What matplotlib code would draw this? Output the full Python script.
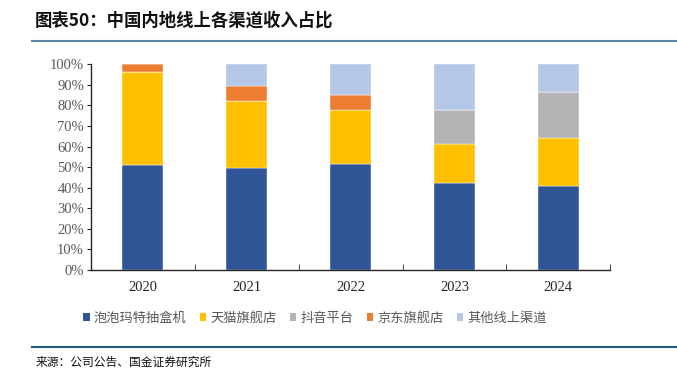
import matplotlib
matplotlib.use('Agg')
import matplotlib.pyplot as plt
from matplotlib.patches import Patch
from matplotlib.lines import Line2D
import numpy as np

years = ['2020', '2021', '2022', '2023', '2024']
channels = ['泡泡玛特抽盒机', '天猫旗舰店', '抖音平台', '京东旗舰店', '其他线上渠道']
# share of online revenue, %
popmart_box = [51.2, 49.8, 51.7, 42.4, 41.0]
tmall = [44.9, 32.2, 25.9, 18.8, 23.4]
douyin = [0.0, 0.0, 0.0, 16.6, 22.2]
jd = [3.9, 7.5, 7.3, 0.0, 0.0]
other = [0.0, 10.5, 15.1, 22.2, 13.4]
colors = ['#2F5597', '#FFC000', '#B4B4B4', '#ED7D31', '#B4C7E7']

plt.rcParams['font.family'] = ['Noto Sans CJK SC', 'DejaVu Sans']

fig = plt.figure(figsize=(6.77, 3.75), dpi=100)
ax = fig.add_axes([0.1344, 0.28, 0.767, 0.5485])

x = np.arange(len(years))
bottom = np.zeros(len(years))
for vals, c in zip([popmart_box, tmall, douyin, jd, other], colors):
    ax.bar(x, vals, width=0.395, bottom=bottom, color=c, edgecolor='white', linewidth=0.3)
    bottom += np.array(vals)

ax.set_xlim(-0.5, len(years) - 0.5)
ax.set_ylim(0, 100)
ax.set_yticks(np.arange(0, 101, 10))
ax.set_yticklabels([f'{v}%' for v in range(0, 101, 10)], fontfamily='Liberation Serif',
                   fontsize=10.5, color='#595959')
ax.set_xticks(x)
ax.set_xticklabels(years, fontfamily='Liberation Serif', fontsize=10.5, color='#262626')
ax.set_xticks(np.arange(-0.5, len(years)), minor=True)
ax.tick_params(axis='x', which='major', length=0, pad=8)
ax.tick_params(axis='x', which='minor', direction='in', length=4, color='#262626')
ax.tick_params(axis='y', direction='out', length=3, color='#262626', pad=2)
for s in ['top', 'right']:
    ax.spines[s].set_visible(False)
ax.spines['left'].set_color('#262626')
ax.spines['bottom'].set_color('#262626')
ax.spines['left'].set_linewidth(1.0)
ax.spines['bottom'].set_linewidth(1.0)

handles = [Patch(facecolor=c, edgecolor='none') for c in colors]
fig.legend(handles, channels, loc='center', bbox_to_anchor=(315 / 677, 1 - 318 / 375),
           ncol=5, frameon=False, fontsize=9.5, handlelength=0.5, handleheight=0.5,
           handletextpad=0.3, columnspacing=1.0, labelcolor='#595959')

fig.text(35 / 677, 1 - 21 / 375, '图表50：中国内地线上各渠道收入占比', fontsize=12.5,
         fontweight='bold', fontstyle='italic', color='#111111', va='center', ha='left')
fig.add_artist(Line2D([32 / 677, 1.0], [1 - 41 / 375] * 2, color='#5B87A6', linewidth=1.5))
fig.add_artist(Line2D([32 / 677, 1.0], [1 - 347 / 375] * 2, color='#1F5A80', linewidth=1.5))
fig.text(36 / 677, 1 - 362 / 375, '来源：公司公告、国金证券研究所', fontsize=8.5,
         color='#111111', va='center', ha='left')

fig.savefig('out.png', dpi=100)
